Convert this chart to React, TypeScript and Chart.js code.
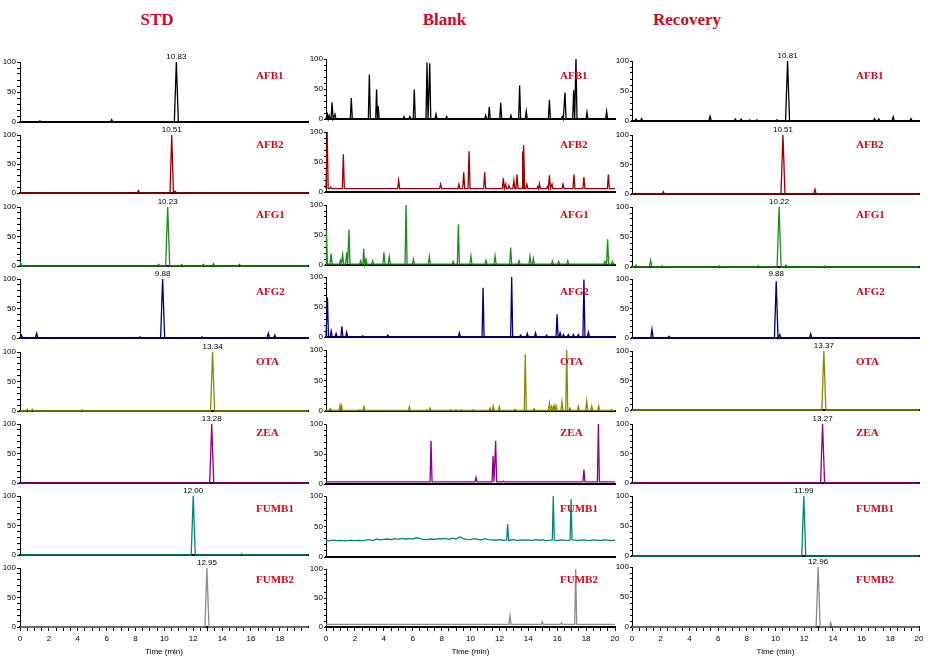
import React, { useEffect, useRef } from "react";
import { Chart, registerables } from "chart.js";

Chart.register(...registerables);

type Peak = [number, number];
interface Pt { x: number; y: number }

// ---------------- data ----------------
const COLUMN_TITLES = ["STD", "Blank", "Recovery"];
const COMPOUNDS = ["AFB1", "AFB2", "AFG1", "AFG2", "OTA", "ZEA", "FUMB1", "FUMB2"];
const TRACE_COLORS = ["#000000", "#990000", "#1f8a1f", "#00007a", "#8a8a00", "#8b008b", "#00857a", "#8c8c8c"];
const X_MAX = [19.95, 20, 20];
const X_TICK_STEP = 0.5;
const X_LABEL_EVERY = 2;
const Y_TICK_STEP = 10;
const Y_LABEL_EVERY = 50;

// STD column
const STD_RT = [10.83, 10.51, 10.23, 9.88, 13.34, 13.28, 12.0, 12.95];
const STD_MAIN_H = [100, 100, 100, 100, 100, 100, 100, 100];
const stdAFB1: Peak[] = [[1.38, 2], [6.35, 4], [12.2, 1]];
const stdAFB2: Peak[] = [[8.2, 4], [10.75, 3]];
const stdAFG1: Peak[] = [[0.05, 5], [9.6, 3], [11.2, 3], [12.7, 3], [13.4, 4], [15.2, 3]];
const stdAFG2: Peak[] = [[0.1, 5], [1.15, 8], [8.3, 2], [12.6, 2], [17.2, 8], [17.65, 5]];
const stdOTA: Peak[] = [[0.5, 3], [0.85, 3], [4.3, 2]];
const stdZEA: Peak[] = [];
const stdFUMB1: Peak[] = [[15.35, 2]];
const stdFUMB2: Peak[] = [];
const STD_MINOR = [stdAFB1, stdAFB2, stdAFG1, stdAFG2, stdOTA, stdZEA, stdFUMB1, stdFUMB2];

// Recovery column
const REC_RT_LABEL = [10.81, 10.51, 10.22, 9.88, 13.37, 13.27, 11.99, 12.96];
const REC_PEAK_T = [10.84, 10.52, 10.25, 10.05, 13.37, 13.28, 11.97, 12.97];
const REC_MAIN_H = [100, 100, 100, 96, 100, 100, 100, 100];
const recAFB1: Peak[] = [[0.28, 3], [0.67, 4], [5.44, 8], [7.2, 3], [7.6, 3], [8.2, 2], [8.7, 2], [10.1, 2], [16.9, 4], [17.2, 3], [18.2, 7], [19.44, 4]];
const recAFB2: Peak[] = [[2.18, 4], [12.75, 8]];
const recAFG1: Peak[] = [[0.28, 3], [1.3, 11], [2.1, 2], [6.1, 2], [8.8, 2], [10.73, 3], [13.4, 2]];
const recAFG2: Peak[] = [[0.9, 1], [1.39, 15], [2.58, 3], [10.3, 6], [12.45, 7]];
const recOTA: Peak[] = [];
const recZEA: Peak[] = [];
const recFUMB1: Peak[] = [];
const recFUMB2: Peak[] = [[13.85, 7]];
const REC_MINOR = [recAFB1, recAFB2, recAFG1, recAFG2, recOTA, recZEA, recFUMB1, recFUMB2];

// Blank column
const blankAFB1: Peak[] = [[0.09, 8], [0.22, 6], [0.42, 28], [0.62, 8], [1.75, 35], [3.0, 74], [3.5, 49], [3.62, 21], [5.4, 4], [5.8, 4], [6.11, 49], [6.99, 94], [7.18, 93], [7.61, 8], [8.35, 4], [11.05, 6], [11.3, 20], [12.09, 27], [12.8, 6], [13.4, 56], [13.86, 13], [15.46, 32], [16.35, 4], [16.54, 44], [17.14, 48], [17.3, 100], [18.06, 11], [19.42, 13]];
const blankAFB2: Peak[] = [[0.08, 100], [0.33, 8], [1.2, 63], [5.03, 19], [7.93, 13], [9.2, 13], [9.53, 33], [9.9, 68], [10.98, 33], [12.27, 23], [12.43, 13], [12.66, 11], [13.0, 19], [13.22, 29], [13.61, 68], [13.7, 78], [13.9, 13], [14.65, 9], [14.77, 14], [15.32, 9], [15.46, 28], [15.64, 13], [16.4, 13], [17.16, 29], [17.85, 25], [19.54, 29]];
const blankAFG1: Peak[] = [[0.03, 61], [0.35, 19], [1.0, 8], [1.15, 17], [1.43, 21], [1.59, 59], [2.4, 7], [2.61, 27], [2.72, 8], [2.8, 7], [3.23, 7], [4.01, 21], [4.38, 14], [5.54, 100], [6.05, 10], [7.15, 14], [8.8, 6], [9.16, 68], [10.03, 15], [11.07, 8], [11.7, 15], [12.78, 29], [13.36, 7], [14.12, 15], [14.35, 11], [15.67, 7], [16.1, 6], [16.73, 7], [19.3, 6], [19.49, 43], [19.82, 6]];
const blankAFG2: Peak[] = [[0.1, 66], [0.36, 10], [0.7, 6], [1.1, 18], [1.43, 8], [2.54, 2], [4.27, 3], [9.23, 7], [10.87, 82], [12.85, 100], [13.47, 3], [13.93, 6], [14.5, 7], [15.27, 3], [15.99, 38], [16.2, 7], [16.43, 4], [16.77, 4], [17.12, 4], [17.46, 4], [17.85, 96], [18.16, 8]];
const blankOTA: Peak[] = [[0.3, 4], [0.97, 9], [1.08, 8], [2.35, 2], [2.63, 7], [5.77, 7], [6.97, 2], [7.2, 5], [8.6, 2], [9.0, 2], [9.4, 2], [10.2, 2], [11.35, 5], [11.58, 8], [11.99, 7], [13.08, 3], [13.79, 93], [14.4, 4], [15.46, 13], [15.62, 8], [15.78, 9], [15.92, 9], [16.33, 15], [16.66, 100], [16.88, 5], [17.46, 8], [18.04, 16], [18.39, 8], [18.87, 8], [19.77, 2]];
const blankZEA: Peak[] = [[7.27, 72], [10.38, 11], [11.56, 47], [11.74, 72], [12.3, 5], [17.85, 24], [18.85, 100]];
const blankFUMB1: Peak[] = [[12.57, 54], [15.73, 100], [16.96, 95]];
const blankFUMB2: Peak[] = [[12.73, 19], [14.97, 9], [16.3, 7], [17.28, 100]];
const BLANK_PEAKS = [blankAFB1, blankAFB2, blankAFG1, blankAFG2, blankOTA, blankZEA, blankFUMB1, blankFUMB2];
const BLANK_BASE = [0, 5.5, 1.5, 0.5, 1, 3.5, -1, 4.5]; // -1: uses noise baseline
// FUMB1 blank baseline, one value every 0.25 min from 0 to 20
const NOISE_STEP = 0.25;
const blankFumb1Noise = [
  27, 26.5, 27.5, 26.8, 27.2, 26.5, 27, 27.5, 26.8,
  27.2, 26.8, 27.5, 28.5, 27, 29.5, 28, 28.8,
  29.5, 28.5, 30, 29, 30.5, 29.5, 30, 29.2,
  31.5, 30, 29, 28.5, 29.5, 28.8, 30, 29.5,
  30.5, 29, 31, 29.5, 33, 30, 29, 28.5,
  30, 29, 28, 30, 28.5, 28, 27.5, 28.5,
  27.5, 28, 27.5, 28.5, 27, 28, 27.5, 28,
  27, 28.5, 27.5, 28, 27, 27.5, 28, 27,
  28, 27.5, 27, 28, 27.5, 27, 28, 27.5,
  27, 28, 27.5, 27, 28, 27.5, 27, 27.5,
];

// ---------------- layout ----------------
const SANS = '"Liberation Sans", Arial, sans-serif';
const SERIF = '"Liberation Serif", "Times New Roman", serif';
const RED = "#cc0a1e";
const COL_X0 = [20, 326, 632];
const COL_XEND = [308.3, 615, 919];
const COL_Y0 = [
  [121.7, 193.3, 266, 337.7, 410.7, 482.7, 555, 626.7],
  [118.5, 191.7, 265, 336.7, 410.7, 484, 557.3, 626.7],
  [121, 194, 266.7, 338.3, 410, 482.7, 556, 626.7],
];
const COL_Y100 = [
  [62.3, 135, 206.7, 279, 352.3, 424.3, 495.7, 568.3],
  [59, 131.7, 205, 276.7, 350, 424, 496, 569.3],
  [60.7, 135, 206.7, 279.3, 350.7, 424, 495.7, 567.3],
];
const LABEL_X = [256, 560, 856];
const LABEL_Y = [74.8, 144.3, 213.8, 291.2, 361.4, 431.5, 508.3, 578.5];
const TITLE_CX = [157, 444.5, 687];
const TITLE_CY = 19.5;
const Y_TICK_LEN = [3, 2, 2];
const Y_AXIS_W = 22;
const PAD_T = 16;
const PAD_R = 10;
const PAD_B_INNER = 6;
const X_AXIS_H_LAST = 30;

interface PeakSpec { t: number; h: number; w: number }

function buildTrace(peaks: PeakSpec[], baseSamples: Pt[], baseAt: (t: number) => number, xMax: number): Pt[] {
  const sorted = [...peaks].sort((a, b) => a.t - b.t);
  const spans = sorted.map((p, i) => {
    const prev = i > 0 ? sorted[i - 1].t : -Infinity;
    const next = i < sorted.length - 1 ? sorted[i + 1].t : Infinity;
    const w = Math.min(p.w, (p.t - prev) / 2, (next - p.t) / 2);
    return { l: Math.max(0, p.t - w), t: p.t, r: Math.min(xMax, p.t + w), h: p.h };
  });
  const pts: Pt[] = [];
  for (const s of baseSamples) {
    if (!spans.some((sp) => s.x >= sp.l && s.x <= sp.r)) pts.push(s);
  }
  for (const sp of spans) {
    pts.push({ x: sp.l, y: baseAt(sp.l) }, { x: sp.t, y: sp.h }, { x: sp.r, y: baseAt(sp.r) });
  }
  pts.sort((a, b) => a.x - b.x);
  return pts;
}

function panelData(col: number, row: number): { pts: Pt[]; label: { t: number; text: string } | null } {
  const xMax = X_MAX[col];
  if (col === 1) {
    const peaks = BLANK_PEAKS[row].map(([t, h]) => ({ t, h, w: 0.07 }));
    const b = BLANK_BASE[row];
    if (b < 0) {
      const samples = blankFumb1Noise.map((v, i) => ({ x: i * NOISE_STEP, y: v }));
      const at = (t: number) => blankFumb1Noise[Math.min(blankFumb1Noise.length - 1, Math.max(0, Math.round(t / NOISE_STEP)))];
      return { pts: buildTrace(peaks, samples, at, xMax), label: null };
    }
    return { pts: buildTrace(peaks, [{ x: 0, y: b }, { x: xMax, y: b }], () => b, xMax), label: null };
  }
  const minor = (col === 0 ? STD_MINOR : REC_MINOR)[row].map(([t, h]) => ({ t, h, w: 0.09 }));
  const mainT = col === 0 ? STD_RT[row] : REC_PEAK_T[row];
  const mainH = col === 0 ? STD_MAIN_H[row] : REC_MAIN_H[row];
  const labelVal = col === 0 ? STD_RT[row] : REC_RT_LABEL[row];
  const peaks = [...minor, { t: mainT, h: mainH, w: 0.14 }];
  return {
    pts: buildTrace(peaks, [{ x: 0, y: 0 }, { x: xMax, y: 0 }], () => 0, xMax),
    label: { t: mainT, text: labelVal.toFixed(2) },
  };
}

function Panel({ col, row }: { col: number; row: number }) {
  const ref = useRef<HTMLCanvasElement>(null);
  const x0 = COL_X0[col];
  const xEnd = COL_XEND[col];
  const y0 = COL_Y0[col][row];
  const y100 = COL_Y100[col][row];
  const isLast = row === COMPOUNDS.length - 1;
  const left = Math.round(x0) - Y_AXIS_W;
  const width = Y_AXIS_W + Math.round(xEnd - x0) + PAD_R;
  const top = Math.round(y100) - PAD_T;
  const plotH = Math.round(y0) - Math.round(y100);
  const height = PAD_T + plotH + (isLast ? X_AXIS_H_LAST : PAD_B_INNER);

  useEffect(() => {
    if (!ref.current) return;
    const { pts, label } = panelData(col, row);
    const labelPlugin = {
      id: "peakLabel",
      afterDatasetsDraw(chart: any) {
        if (!label) return;
        const { ctx, chartArea, scales } = chart;
        ctx.save();
        ctx.font = `8px ${SANS}`;
        ctx.fillStyle = "#000";
        ctx.textAlign = "center";
        ctx.textBaseline = "alphabetic";
        ctx.fillText(label.text, scales.x.getPixelForValue(label.t), chartArea.top - 3);
        ctx.restore();
      },
    };
    const chart = new Chart(ref.current, {
      type: "line",
      data: {
        datasets: [
          {
            data: pts as any,
            borderColor: TRACE_COLORS[row],
            borderWidth: 1.3,
            pointRadius: 0,
            tension: 0,
            fill: false,
            clip: false as any,
          },
        ],
      },
      options: {
        animation: false,
        responsive: false,
        devicePixelRatio: 1,
        events: [],
        parsing: false,
        layout: { padding: { top: PAD_T, right: PAD_R, left: 0, bottom: isLast ? 0 : PAD_B_INNER } },
        plugins: { legend: { display: false }, tooltip: { enabled: false }, title: { display: false } },
        scales: {
          x: {
            type: "linear",
            position: "bottom",
            min: 0,
            max: X_MAX[col],
            border: { display: true, color: "#000", width: 2 },
            grid: { display: isLast, drawOnChartArea: false, drawTicks: true, tickLength: 4, color: "#000", lineWidth: 1 },
            ticks: {
              display: isLast,
              stepSize: X_TICK_STEP,
              autoSkip: false,
              maxRotation: 0,
              minRotation: 0,
              includeBounds: false,
              padding: 3,
              color: "#000",
              font: { size: 8, family: SANS },
              callback: (v: any) => (Math.abs(Number(v) % X_LABEL_EVERY) < 1e-9 ? String(v) : ""),
            },
            title: { display: isLast, text: "Time (min)", color: "#000", font: { size: 8, family: SANS }, padding: { top: 0, bottom: 0 } },
            afterFit: (s: any) => { s.height = isLast ? X_AXIS_H_LAST : 0; },
          } as any,
          y: {
            type: "linear",
            position: "left",
            min: 0,
            max: 100,
            border: { display: true, color: "#000", width: 1 },
            grid: { display: true, drawOnChartArea: false, drawTicks: true, tickLength: Y_TICK_LEN[col], color: "#000", lineWidth: 1 },
            ticks: {
              stepSize: Y_TICK_STEP,
              autoSkip: false,
              padding: 1,
              color: "#000",
              font: { size: 8, family: SANS },
              callback: (v: any) => (Number(v) % Y_LABEL_EVERY === 0 ? String(v) : ""),
            },
            afterFit: (s: any) => { s.width = Y_AXIS_W; },
          } as any,
        },
      },
      plugins: [labelPlugin as any],
    });
    return () => chart.destroy();
  }, [col, row]);

  return (
    <canvas
      ref={ref}
      width={width}
      height={height}
      style={{ position: "absolute", left, top, width, height }}
    />
  );
}

export default function App() {
  const panels: React.ReactNode[] = [];
  const labels: React.ReactNode[] = [];
  for (let col = 0; col < 3; col++) {
    for (let row = 0; row < COMPOUNDS.length; row++) {
      panels.push(<Panel key={`p${col}-${row}`} col={col} row={row} />);
      labels.push(
        <div
          key={`l${col}-${row}`}
          style={{
            position: "absolute",
            left: LABEL_X[col],
            top: LABEL_Y[row] - 6,
            font: `bold 11px ${SERIF}`,
            lineHeight: "12px",
            color: RED,
            whiteSpace: "nowrap",
          }}
        >
          {COMPOUNDS[row]}
        </div>
      );
    }
  }
  return (
    <div style={{ position: "absolute", left: 0, top: 0, width: 938, height: 660, background: "#fff", overflow: "hidden" }}>
      {COLUMN_TITLES.map((t, i) => (
        <div
          key={t}
          style={{
            position: "absolute",
            left: TITLE_CX[i] - 70,
            top: TITLE_CY - 10,
            width: 140,
            textAlign: "center",
            font: `bold 17px ${SERIF}`,
            lineHeight: "20px",
            color: RED,
          }}
        >
          {t}
        </div>
      ))}
      {panels}
      {labels}
    </div>
  );
}
